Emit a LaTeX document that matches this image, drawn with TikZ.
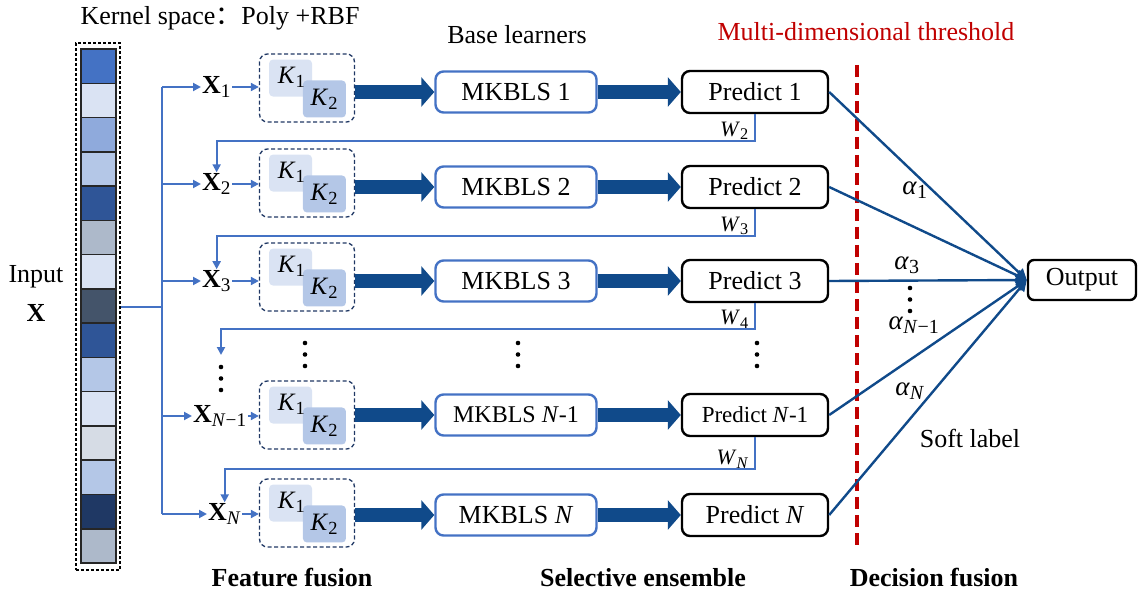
\documentclass[tikz,border=0pt]{standalone}
\usepackage{fix-cm}
\usepackage{fontspec}
\setmainfont{Liberation Serif}
\newfontfamily\cjk{Noto Sans CJK SC}
\usetikzlibrary{arrows.meta,positioning}
\renewcommand{\defaultscriptratio}{.74}

\definecolor{ublue}{RGB}{68,114,196}
\definecolor{dblue}{RGB}{16,74,138}
\definecolor{navy}{RGB}{32,56,100}
\definecolor{kone}{RGB}{218,227,243}
\definecolor{ktwo}{RGB}{180,199,231}
\definecolor{tred}{RGB}{192,0,0}
\definecolor{ca}{HTML}{4472C4}
\definecolor{cb}{HTML}{DAE3F3}
\definecolor{cc}{HTML}{8FAADC}
\definecolor{cd}{HTML}{B4C7E7}
\definecolor{ce}{HTML}{2F5597}
\definecolor{cf}{HTML}{ADB9CA}
\definecolor{cg}{HTML}{44546A}
\definecolor{ch}{HTML}{D6DCE5}
\definecolor{ci}{HTML}{1F3864}

\begin{document}
\begin{tikzpicture}[x=1pt,y=-1pt,font=\fontsize{26}{31}\selectfont]

\tikzstyle{cellnode}=[rectangle,inner sep=0pt,minimum width=35,minimum height=34.27,draw=black!85,line width=1.5pt]
\tikzstyle{kbox}=[rectangle,inner sep=0pt,minimum width=95,minimum height=68,rounded corners=8pt,draw=navy,line width=1.3pt,dash pattern=on 4pt off 2.5pt]
\tikzstyle{kpnode}=[rectangle,inner sep=0pt,minimum width=43,minimum height=37,rounded corners=4pt,fill=kone]
\tikzstyle{krnode}=[rectangle,inner sep=0pt,minimum width=43,minimum height=37,rounded corners=4pt,fill=ktwo,font=\fontsize{25}{29}\selectfont]
\tikzstyle{klabel}=[inner sep=0pt,font=\fontsize{25}{29}\selectfont]
\tikzstyle{mknode}=[rectangle,inner sep=0pt,minimum width=161,minimum height=41,rounded corners=8pt,draw=ublue,line width=2.4pt]
\tikzstyle{prnode}=[rectangle,inner sep=0pt,minimum width=146,minimum height=42,rounded corners=8pt,draw=black,line width=2.4pt]
\tikzstyle{xnode}=[anchor=west,inner sep=1pt]
\tikzstyle{wnode}=[anchor=south east,inner sep=1pt,font=\fontsize{22}{26}\selectfont]
\tikzstyle{anode}=[inner sep=1pt,font=\fontsize{27}{31}\selectfont]
\tikzstyle{thinline}=[draw=ublue,line width=2.3pt]
\tikzstyle{thinarrow}=[thinline,-{Triangle[length=8pt,width=8pt]}]
\tikzstyle{fatarrow}=[draw=dblue,line width=14pt,-{Triangle[length=13pt,width=29pt]}]
\tikzstyle{alphaline}=[draw=dblue,line width=2.4pt,-{Triangle[length=11pt,width=11pt]}]

\useasboundingbox (0,0) rectangle (1138,596);

\node [anchor=center] (kt) at (220,18) {Kernel space{\cjk ：}Poly +RBF};
\node [anchor=center] (bl) at (517,35) {Base learners};
\node [anchor=center,text=tred] (mt) at (866,32) {Multi-dimensional threshold};

\node [rectangle,draw=black,line width=1.3pt,dash pattern=on 3pt off 2pt,minimum width=44,minimum height=527,inner sep=0pt] (inbox) at (98,306.5) {};
\foreach \c [count=\i] in {ca,cb,cc,cd,ce,cf,cb,cg,ce,cd,cb,ch,cd,ci,cf}
  \node [cellnode,fill=\c] (cell\i) at (98.5,{49+34.27*(\i-0.5)}) {};
\node [anchor=center] (in1) at (36,277) {Input};
\node [anchor=center] (in2) at (36,313) {\textbf{X}};

\node [xnode] (x1) at (201,87) {\textbf{X}\textsubscript{1}};
\node [xnode] (x2) at (201,184) {\textbf{X}\textsubscript{2}};
\node [xnode] (x3) at (201,281) {\textbf{X}\textsubscript{3}};
\node [xnode] (x4) at (192,416) {\textbf{X}\textsubscript{\textit{N}−1}};
\node [xnode] (x5) at (207,514) {\textbf{X}\textsubscript{\textit{N}}};

\foreach \i/\y in {1/88,2/183,3/277,4/415,5/513}{
  \node [kbox] (kb\i) at (307,\y) {};
  \node [kpnode,anchor=north west] (kp\i) at ([xshift=10pt,yshift=-6pt]kb\i.north west) {};
  \node [krnode,anchor=south east] (kr\i) at ([xshift=-9pt,yshift=5pt]kb\i.south east) {\textit{K}\textsubscript{2}};
  \node [klabel] (kl\i) at ([xshift=1pt,yshift=1pt]kp\i.center) {\textit{K}\textsubscript{1}};
}

\node [mknode] (mk1) at (516,92) {MKBLS 1};
\node [mknode] (mk2) at (516,187) {MKBLS 2};
\node [mknode] (mk3) at (516,281) {MKBLS 3};
\node [mknode,font=\fontsize{24}{28}\selectfont] (mk4) at (516,415) {MKBLS \textit{N}-1};
\node [mknode] (mk5) at (516,515) {MKBLS \textit{N}};

\node [prnode] (pr1) at (755,92) {Predict 1};
\node [prnode] (pr2) at (755,187) {Predict 2};
\node [prnode] (pr3) at (755,281) {Predict 3};
\node [prnode,font=\fontsize{23}{27}\selectfont] (pr4) at (755,415) {Predict \textit{N}-1};
\node [prnode] (pr5) at (755,515) {Predict \textit{N}};

\node [rectangle,inner sep=0pt,minimum width=108,minimum height=40,rounded corners=6pt,draw=black,line width=2.4pt] (out) at (1082,280) {Output};

\coordinate (tk) at (162,307);
\draw [thinline] (inbox.east |- tk)--(tk);
\draw [thinline] (tk |- x1.west)--(tk |- x5.west);
\foreach \i in {1,...,5}{
  \draw [thinarrow] (tk |- x\i.west)--(x\i.west);
  \draw [thinarrow] (x\i.east)--(x\i.east -| kb\i.west);
  \draw [fatarrow] (kb\i.east |- mk\i.west)--(mk\i.west);
  \draw [fatarrow] (mk\i.east)--(pr\i.west);
}

\coordinate (gap) at (221,355);
\draw [thinarrow] (pr1.south)--++(0,27) -| (x2.north);
\draw [thinarrow] (pr2.south)--++(0,27) -| (x3.north);
\draw [thinarrow] (pr3.south)--++(0,26) -| (gap);
\draw [thinarrow] (pr4.south)--++(0,32) -| (x5.north);
\node [wnode] (w2) at ([xshift=-5pt,yshift=-27pt]pr1.south) {\textit{W}\textsubscript{2}};
\node [wnode] (w3) at ([xshift=-5pt,yshift=-27pt]pr2.south) {\textit{W}\textsubscript{3}};
\node [wnode] (w4) at ([xshift=-5pt,yshift=-26pt]pr3.south) {\textit{W}\textsubscript{4}};
\node [wnode] (w5) at ([xshift=-5pt,yshift=-32pt]pr4.south) {\textit{W}\textsubscript{\textit{N}}};

\foreach \dx/\dy in {305/343,518/343,757/343,221/367,910/288}
  \foreach \k in {0,1,2}
    \fill (\dx,{\dy+11.5*\k}) circle [radius=2.3pt];

\draw [draw=tred,line width=3.5pt,dash pattern=on 12pt off 6pt] (857,65)--(857,550);

\foreach \i in {1,...,5}
  \draw [alphaline] (pr\i.east)--(out.west);

\node [anode] (a1) at (915,190) {\textit{α}\textsubscript{1}};
\node [anode] (a3) at (907,265) {\textit{α}\textsubscript{3}};
\node [anode] (a4) at (914,325) {\textit{α}\textsubscript{\textit{N}−1}};
\node [anode] (a5) at (910,391) {\textit{α}\textsubscript{\textit{N}}};
\node [anchor=center] (sl) at (970,438) {Soft label};

\node [font=\fontsize{26}{31}\selectfont\bfseries] (ff) at (292,578) {Feature fusion};
\node [font=\fontsize{26}{31}\selectfont\bfseries] (se) at (643,578) {Selective ensemble};
\node [font=\fontsize{26}{31}\selectfont\bfseries] (df) at (934,578) {Decision fusion};

\end{tikzpicture}
\end{document}
